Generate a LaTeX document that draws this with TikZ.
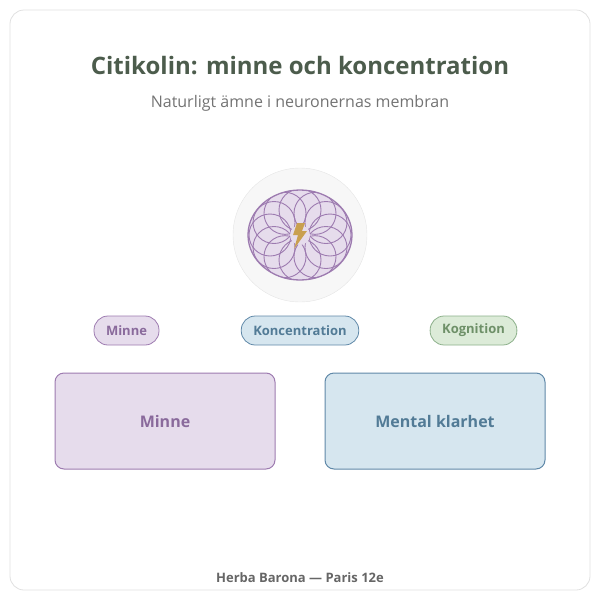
\documentclass[tikz,border=0pt]{standalone}
\usepackage{fontspec}
\setmainfont{Open Sans}
\begin{document}
\begin{tikzpicture}[x=1pt,y=-1pt,
 pill/.style={draw,rounded corners=14pt,minimum height=29pt,line width=0.8pt,font=\bfseries\fontsize{13}{15}\selectfont,inner xsep=12pt},
 pb/.style={fill=blueF,draw=blueD,text=blueT},
 pg/.style={fill=greenF,draw=greenD,text=greenT},
 box/.style={draw,rounded corners=9pt,minimum width=220pt,minimum height=96pt,line width=1pt,font=\bfseries\fontsize{16}{18}\selectfont}]
\definecolor{purp}{HTML}{9D7BB0}\definecolor{purpT}{HTML}{8A6A9C}\definecolor{purpF}{HTML}{E6DCEC}
\definecolor{blueF}{HTML}{D6E6EF}\definecolor{blueD}{HTML}{5F88A8}\definecolor{blueT}{HTML}{527B96}
\definecolor{greenF}{HTML}{DCEBD8}\definecolor{greenD}{HTML}{8CB08A}\definecolor{greenT}{HTML}{6E9068}
\definecolor{gold}{HTML}{C9A050}
\useasboundingbox (0,0) rectangle (600,600);
\node[draw=black!12,rounded corners=14pt,minimum width=580pt,minimum height=580pt,line width=0.8pt] (frame) at (300,300) {};
\node[text=black!85!green!40!gray,font=\bfseries\fontsize{24}{28}\selectfont] (title) at (300,66) {Citikolin: minne och koncentration};
\node[text=black!55,font=\fontsize{16}{19}\selectfont] (sub) at (300,103) {Naturligt ämne i neuronernas membran};
\node[circle,fill=black!3,draw=black!10,minimum size=134pt] (ic) at (300,235) {};
\fill[purpF] (300,235) ellipse [x radius=52, y radius=45];
\begin{scope}
\clip (300,235) ellipse [x radius=52, y radius=45];
\foreach \a in {0,30,...,330}
  \draw[purp,line width=0.9pt] ({300+30*cos(\a)},{235+25*sin(\a)}) circle (21);
\fill[purpF] (300,235) circle (10);
\end{scope}
\draw[purp,line width=1.3pt] (300,235) ellipse [x radius=52, y radius=45];
\fill[gold] (297,223)--(305,223)--(302,231)--(307,231)--(294,249)--(298,235)--(293,235)--cycle;
\node[pill,fill=purpF,draw=purp,text=purpT] (p1) at (126.5,330.5) {Minne};
\node[pill,pb] (p2) at (300,330.5) {Koncentration};
\node[pill,pg] (p3) at (473.5,330.5) {Kognition};
\node[box,fill=purpF,draw=purp,text=purpT] (b1) at (165,421) {Minne};
\node[box,fill=blueF,draw=blueD,text=blueT] (b2) at (435,421) {Mental klarhet};
\node[text=black!60,font=\bfseries\fontsize{13}{15}\selectfont] (foot) at (300,578) {Herba Barona — Paris 12e};
\end{tikzpicture}
\end{document}
